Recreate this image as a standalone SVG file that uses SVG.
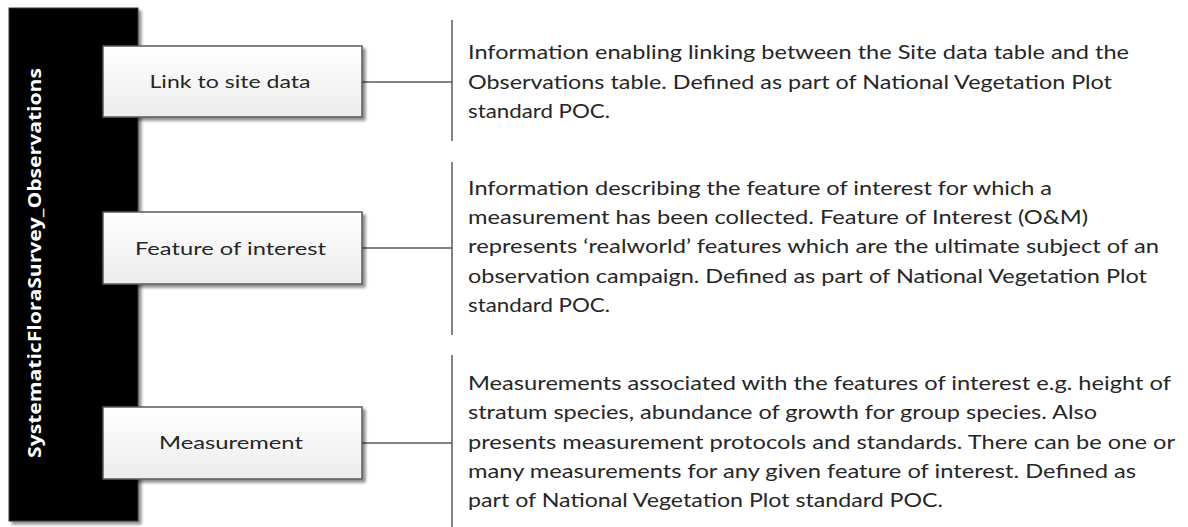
<svg xmlns="http://www.w3.org/2000/svg" width="1188" height="527" viewBox="0 0 1188 527">
<style>
.desc{font-family:Lato,"Liberation Sans",sans-serif;font-size:19px;fill:#262626}
.lbl{font-family:Lato,"Liberation Sans",sans-serif;font-size:18px;fill:#262626;text-anchor:middle}
.title{font-family:"Open Sans","Liberation Sans",sans-serif;font-size:18px;font-weight:bold;fill:#ffffff;text-anchor:middle}
.box{fill:url(#g);stroke:#5a5a5a;stroke-width:1.5}
.con{stroke:#5a5a5a;stroke-width:1.5;fill:none}
</style>
<defs>
<linearGradient id="g" x1="0" y1="0" x2="0" y2="1">
<stop offset="0" stop-color="#ffffff"/>
<stop offset="1" stop-color="#ececec"/>
</linearGradient>
<filter id="sh" x="-10%" y="-10%" width="130%" height="140%">
<feGaussianBlur in="SourceAlpha" stdDeviation="1.5"/>
<feOffset dx="3" dy="3" result="b"/>
<feComponentTransfer><feFuncA type="linear" slope="0.45"/></feComponentTransfer>
<feMerge><feMergeNode/><feMergeNode in="SourceGraphic"/></feMerge>
</filter>
</defs>
<rect width="1188" height="527" fill="#ffffff"/>
<g id="main">
<rect x="9" y="8" width="129" height="513" fill="#000000" stroke="#3a3a3a" stroke-width="1" filter="url(#sh)"/>
<text class="title" transform="translate(41,263) rotate(-90)" textLength="390" lengthAdjust="spacingAndGlyphs">SystematicFloraSurvey_Observations</text>
</g>
<g id="connectors">
<line class="con" x1="362" y1="82" x2="452" y2="82"/>
<line class="con" x1="452" y1="20" x2="452" y2="141"/>
<line class="con" x1="362" y1="248" x2="452" y2="248"/>
<line class="con" x1="452" y1="162" x2="452" y2="335"/>
<line class="con" x1="362" y1="443" x2="452" y2="443"/>
<line class="con" x1="452" y1="355" x2="452" y2="527"/>
</g>
<g id="link">
<rect class="box" x="103" y="46" width="259" height="71" filter="url(#sh)"/>
<text class="lbl" x="230" y="88" textLength="161" lengthAdjust="spacingAndGlyphs">Link to site data</text>
</g>
<g id="feature">
<rect class="box" x="103" y="212" width="259" height="72" filter="url(#sh)"/>
<text class="lbl" x="230.5" y="255" textLength="191" lengthAdjust="spacingAndGlyphs">Feature of interest</text>
</g>
<g id="measurement">
<rect class="box" x="103" y="407" width="259" height="72" filter="url(#sh)"/>
<text class="lbl" x="231" y="449" textLength="144" lengthAdjust="spacingAndGlyphs">Measurement</text>
</g>
<g id="desc-link">
<text class="desc" x="468" y="59" textLength="661" lengthAdjust="spacingAndGlyphs">Information enabling linking between the Site data table and the</text>
<text class="desc" x="468" y="89" textLength="644" lengthAdjust="spacingAndGlyphs">Observations table. Defined as part of National Vegetation Plot</text>
<text class="desc" x="468" y="118" textLength="142" lengthAdjust="spacingAndGlyphs">standard POC.</text>
</g>
<g id="desc-feature">
<text class="desc" x="468" y="195" textLength="584" lengthAdjust="spacingAndGlyphs">Information describing the feature of interest for which a</text>
<text class="desc" x="468" y="224" textLength="620" lengthAdjust="spacingAndGlyphs">measurement has been collected. Feature of Interest (O&amp;M)</text>
<text class="desc" x="468" y="253" textLength="691" lengthAdjust="spacingAndGlyphs">represents ‘realworld’ features which are the ultimate subject of an</text>
<text class="desc" x="468" y="283" textLength="679" lengthAdjust="spacingAndGlyphs">observation campaign. Defined as part of National Vegetation Plot</text>
<text class="desc" x="468" y="312" textLength="142" lengthAdjust="spacingAndGlyphs">standard POC.</text>
</g>
<g id="desc-measurement">
<text class="desc" x="468" y="390" textLength="703" lengthAdjust="spacingAndGlyphs">Measurements associated with the features of interest e.g. height of</text>
<text class="desc" x="468" y="419" textLength="629" lengthAdjust="spacingAndGlyphs">stratum species, abundance of growth for group species. Also</text>
<text class="desc" x="468" y="449" textLength="707" lengthAdjust="spacingAndGlyphs">presents measurement protocols and standards. There can be one or</text>
<text class="desc" x="468" y="478" textLength="668" lengthAdjust="spacingAndGlyphs">many measurements for any given feature of interest. Defined as</text>
<text class="desc" x="468" y="507" textLength="475" lengthAdjust="spacingAndGlyphs">part of National Vegetation Plot standard POC.</text>
</g>
</svg>
